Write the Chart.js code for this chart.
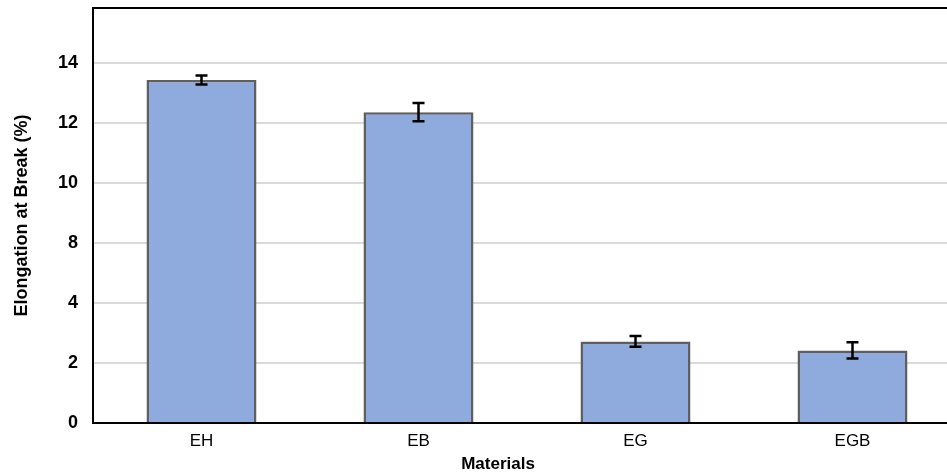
<!DOCTYPE html>
<html>
<head>
<meta charset="utf-8">
<script src="https://cdn.jsdelivr.net/npm/chart.js@4"></script>
<style>
html, body { margin: 0; padding: 0; overflow: hidden; background: #fff; }
#wrap { width: 965px; height: 474px; }
</style>
</head>
<body>
<div id="wrap"><canvas id="chart" width="965" height="474"></canvas></div>
<script>
// data
const materials = ['EH', 'EB', 'EG', 'EGB'];
const elongation = [13.43, 12.36, 2.72, 2.42];
const elongationErr = [0.15, 0.3, 0.18, 0.27];
// the original axis skips 6: ticks are evenly spaced
const yTickLabels = [0, 2, 4, 8, 10, 12, 14];

const FONT = '"Liberation Sans", Arial, sans-serif';

// label value -> position on the evenly spaced axis
function toAxis(v) {
    for (let i = 0; i < yTickLabels.length - 1; i++) {
        const a = yTickLabels[i], b = yTickLabels[i + 1];
        if (v <= b || i === yTickLabels.length - 2) {
            return 2 * i + 2 * (v - a) / (b - a);
        }
    }
}

const errorBars = {
    id: 'errorBars',
    afterDatasetsDraw(chart) {
        const ctx = chart.ctx;
        const y = chart.scales.y;
        const meta = chart.getDatasetMeta(0);
        ctx.save();
        ctx.strokeStyle = '#000';
        ctx.lineWidth = 2.5;
        meta.data.forEach((bar, i) => {
            const top = y.getPixelForValue(toAxis(elongation[i] + elongationErr[i]));
            const bot = y.getPixelForValue(toAxis(elongation[i] - elongationErr[i]));
            ctx.beginPath();
            ctx.moveTo(bar.x, top); ctx.lineTo(bar.x, bot);
            ctx.moveTo(bar.x - 6, top); ctx.lineTo(bar.x + 6, top);
            ctx.moveTo(bar.x - 6, bot); ctx.lineTo(bar.x + 6, bot);
            ctx.stroke();
        });
        ctx.restore();
    }
};

const frame = {
    id: 'frame',
    afterDraw(chart) {
        const ctx = chart.ctx;
        const a = chart.chartArea;
        ctx.save();
        ctx.strokeStyle = '#000';
        ctx.lineWidth = 2;
        ctx.beginPath();
        ctx.moveTo(a.left - 1, a.top);
        ctx.lineTo(a.right, a.top);
        ctx.stroke();
        // x axis title
        ctx.fillStyle = '#000';
        ctx.font = 'bold 17px ' + FONT;
        ctx.textAlign = 'center';
        ctx.textBaseline = 'middle';
        ctx.fillText('Materials', 498, 464);
        ctx.restore();
    }
};

new Chart(document.getElementById('chart'), {
    type: 'bar',
    data: {
        labels: materials,
        datasets: [{
            label: 'Elongation at Break (%)',
            data: elongation.map(toAxis),
            backgroundColor: '#8FAADC',
            borderColor: '#5F5F5F',
            borderWidth: 2.5,
            categoryPercentage: 1,
            barPercentage: 0.507
        }]
    },
    options: {
        responsive: false,
        animation: false,
        devicePixelRatio: 1,
        layout: { padding: { top: 8, right: 4, bottom: 0, left: 0 } },
        plugins: { legend: { display: false }, tooltip: { enabled: false } },
        scales: {
            x: {
                grid: { display: false, drawTicks: false },
                border: { color: '#000', width: 2 },
                ticks: { color: '#000', padding: 8, font: { family: FONT, size: 17 } },
                afterFit(s) { s.height = 51; s.paddingLeft = 0; s.paddingRight = 0; }
            },
            y: {
                min: 0,
                max: 13.83,
                afterBuildTicks(s) { s.ticks = yTickLabels.map((l, i) => ({ value: i * 2 })); },
                grid: {
                    drawTicks: false,
                    lineWidth: 2,
                    color: c => (c.tick && c.tick.value === 0) ? 'rgba(0,0,0,0)' : '#DADADA'
                },
                border: { color: '#000', width: 2 },
                ticks: {
                    color: '#000',
                    padding: 15,
                    font: { family: FONT, size: 18, weight: 'bold' },
                    callback: (v, i) => yTickLabels[i]
                },
                title: {
                    display: true,
                    text: 'Elongation at Break (%)',
                    color: '#000',
                    padding: { top: 11 },
                    font: { family: FONT, size: 18, weight: 'bold' }
                },
                afterFit(s) { s.width = 93; s.paddingTop = 0; s.paddingBottom = 0; }
            }
        }
    },
    plugins: [errorBars, frame]
});
</script>
</body>
</html>
